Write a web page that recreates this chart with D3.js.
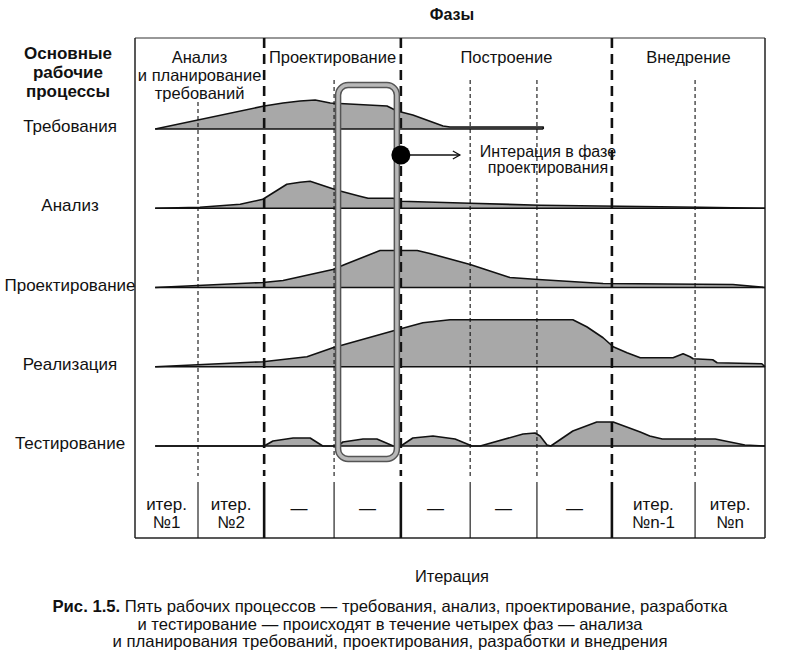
<!DOCTYPE html>
<html><head><meta charset="utf-8">
<script src="https://cdn.jsdelivr.net/npm/d3@7"></script>
<style>
body{margin:0;background:#fff;}
text{font-family:"Liberation Sans",Arial,sans-serif;fill:#111;}
</style></head>
<body><svg id="c" width="800" height="658"></svg>
<script>
// ---- data ----
const processes = ["Требования","Анализ","Проектирование","Реализация","Тестирование"];
// iteration boundaries, in % of project time
const iterBounds = [0, 10, 20.5, 31.6, 42.2, 53.2, 63.8, 75.7, 88.9, 100];
const phaseBreakIdx = [2, 4, 7];
const phaseNames = [["Анализ","и планирование","требований"],["Проектирование"],["Построение"],["Внедрение"]];
const phaseSpans = [[0,2],[2,4],[4,7],[7,9]];
const iterLabels = [["итер.","№1"],["итер.","№2"],["—"],["—"],["—"],["—"],["—"],["итер.","№n-1"],["итер.","№n"]];
const highlightedIter = 3;
// effort curves: [time %, effort level]
const reqCurve = [[3.2,0],[20.5,5.75],[23.5,6.5],[26.2,7],[28.6,7.25],[31,6.5],[40,5.75],[41.6,4.5],[44.1,3.5],[48.9,0.75],[50,0.5],[64.8,0.5],[64.8,0]];
const anaCurve = [[3.2,0],[10.3,0.25],[16.7,1],[20.3,2.25],[24.1,6],[26.2,6.5],[27.8,6.75],[32.1,4.5],[35.7,3],[37,2.5],[41,2.5],[42.2,1.75],[53.2,1.25],[64.3,0.75],[77,0.5],[89.7,0.25],[100,0]];
const desCurve = [[3.2,0],[20.3,1.25],[23.5,1.75],[31.4,4.5],[33.3,5.75],[38.9,9.25],[44.8,9.25],[46.8,8.5],[53.2,5.75],[59.5,2.5],[64,2],[74.3,1],[94.9,0.75],[100,0]];
const implCurve = [[3.2,0],[20.3,1.25],[27.3,2.5],[31.4,4.75],[41.6,9.25],[45.7,11],[50,11.75],[69.5,11.75],[71.7,10],[74.3,7.25],[75.9,5],[78.1,3.5],[80.2,2.25],[85.4,2.25],[87,3.25],[88.1,2.5],[88.6,2],[91.7,1.75],[92.4,1],[99.5,0.75],[100,0]];
const testCurve = [[3.2,0],[20.5,0],[21.9,1.25],[25.1,2],[27.8,2],[29.8,0],[32.2,0],[33,1],[36.2,1.75],[38.4,1.75],[41,0],[42.2,0],[44.1,2],[47.3,2.5],[50.8,1.75],[53.5,0],[54.8,0],[61.6,3],[63.5,3.25],[64.3,2.5],[65.4,0.25],[66,0],[69.5,3.75],[73.3,6],[75.9,6],[80.2,3.5],[81.7,2.5],[83.7,1.75],[92.1,1.75],[96.8,0.25],[100,0]];
const curves = [reqCurve, anaCurve, desCurve, implCurve, testCurve];
const leftHeader = ["Основные","рабочие","процессы"];
const annotation = ["Интерация в фазе","проектирования"];
const caption = ["Рис. 1.5.|Пять рабочих процессов — требования, анализ, проектирование, разработка",
                 "и тестирование — происходят в течение четырех фаз — анализа",
                 "и планирования требований, проектирования, разработки и внедрения"];

// ---- layout ----
const svg = d3.select("#c");
const frameTop = 38, frameBottom = 538, rowTop = 482;
const x = d3.scaleLinear().domain([0,100]).range([135,765]);
const lane = d3.scalePoint().domain(processes).range([129,446]);
const h = d3.scaleLinear().domain([0,12]).range([0,48]);

// left header
svg.append("text").attr("y",59).attr("text-anchor","middle")
  .style("font-weight","bold").style("font-size","17px")
  .selectAll("tspan").data(leftHeader).join("tspan")
  .attr("x",68).attr("dy",(d,i)=>i?19:0).text(d=>d);
svg.append("text").attr("x",452).attr("y",20).attr("text-anchor","middle")
  .style("font-weight","bold").style("font-size","16px").text("Фазы");

// areas
curves.forEach((c,i)=>{
  const base = lane(processes[i]);
  const area = d3.area().x(d=>x(d[0])).y0(base).y1(d=>base-h(d[1]));
  svg.append("path").attr("d",area(c)).attr("fill","#a8a8a8");
});

// frame
svg.append("line").attr("x1",x(0)).attr("x2",x(100)).attr("y1",frameTop).attr("y2",frameTop).attr("stroke","#333").attr("stroke-width",1.2);
svg.append("line").attr("x1",x(0)).attr("x2",x(100)).attr("y1",frameBottom).attr("y2",frameBottom).attr("stroke","#222").attr("stroke-width",1.5);
[0,100].forEach(t=>svg.append("line").attr("x1",x(t)).attr("x2",x(t)).attr("y1",frameTop).attr("y2",frameBottom).attr("stroke","#222").attr("stroke-width",1.5));

// dividers
iterBounds.slice(1,-1).forEach((t,k)=>{
  const idx = k+1;
  const isPhase = phaseBreakIdx.includes(idx);
  svg.append("line").attr("x1",x(t)).attr("x2",x(t))
    .attr("y1", isPhase ? frameTop : (idx===1 ? 102 : 80)).attr("y2", 476)
    .attr("stroke","#111").attr("stroke-width", isPhase?2.6:1.1)
    .attr("stroke-dasharray", isPhase ? "10,6" : "4,3");
  svg.append("line").attr("x1",x(t)).attr("x2",x(t)).attr("y1",rowTop).attr("y2",frameBottom)
    .attr("stroke","#111").attr("stroke-width", isPhase?2.6:1.1);
});

// curve outlines and baselines
curves.forEach((c,i)=>{
  const base = lane(processes[i]);
  const line = d3.line().x(d=>x(d[0])).y(d=>base-h(d[1]));
  svg.append("path").attr("d",line(c)).attr("fill","none").attr("stroke","#111").attr("stroke-width",1.6).attr("stroke-linejoin","round");
  svg.append("line").attr("x1",x(c[0][0])).attr("x2",x(c[c.length-1][0])).attr("y1",base).attr("y2",base)
    .attr("stroke","#111").attr("stroke-width",1.6);
});

// process labels
svg.selectAll(".plab").data(processes).join("text").attr("class","plab")
  .attr("x",70).attr("y",d=>lane(d)+3).attr("text-anchor","middle").style("font-size","17px").text(d=>d);

// phase labels
phaseNames.forEach((lines,i)=>{
  const cx = (x(iterBounds[phaseSpans[i][0]])+x(iterBounds[phaseSpans[i][1]]))/2;
  const t = svg.append("text").attr("text-anchor","middle").attr("y",63).style("font-size","16.5px");
  t.selectAll("tspan").data(lines).join("tspan").attr("x",cx).attr("dy",(d,j)=>j?18:0).text(d=>d);
});

// iteration labels
iterLabels.forEach((lines,i)=>{
  const cx = (x(iterBounds[i])+x(iterBounds[i+1]))/2;
  const t = svg.append("text").attr("text-anchor","middle").style("font-size","17px")
    .attr("y", lines.length>1 ? 510 : 514);
  t.selectAll("tspan").data(lines).join("tspan").attr("x",cx).attr("dy",(d,j)=>j?18:0).text(d=>d);
});

// highlighted iteration box
const bx0 = x(iterBounds[highlightedIter])+4, bx1 = x(iterBounds[highlightedIter+1])-4;
const by0 = 85, by1 = 459;
svg.append("rect").attr("x",bx0).attr("y",by0).attr("width",bx1-bx0).attr("height",by1-by0)
  .attr("rx",10).attr("fill","none").attr("stroke","#555").attr("stroke-width",6.5);
svg.append("rect").attr("x",bx0).attr("y",by0).attr("width",bx1-bx0).attr("height",by1-by0)
  .attr("rx",10).attr("fill","none").attr("stroke","#b8b8b8").attr("stroke-width",3.5);

// annotation
const ax = x(iterBounds[highlightedIter+1]), ay = lane(processes[0]) + 26;
svg.append("circle").attr("cx",ax).attr("cy",ay).attr("r",9.5).attr("fill","#000");
svg.append("line").attr("x1",ax+9).attr("x2",ax+59).attr("y1",ay).attr("y2",ay).attr("stroke","#111").attr("stroke-width",1.3);
svg.append("path").attr("d",`M${ax+52},${ay-4}L${ax+59},${ay}L${ax+52},${ay+4}`).attr("fill","none").attr("stroke","#111").attr("stroke-width",1.3);
svg.append("text").attr("text-anchor","middle").attr("y",ay+2).style("font-size","16px")
  .selectAll("tspan").data(annotation).join("tspan").attr("x",548).attr("dy",(d,j)=>j?16:0).text(d=>d);

// axis title and caption
svg.append("text").attr("x",452).attr("y",582).attr("text-anchor","middle").style("font-size","16px")
  .attr("textLength",74).attr("lengthAdjust","spacingAndGlyphs").text("Итерация");
const capW = [675, 505, 555];
caption.forEach((c,i)=>{
  const t = svg.append("text").attr("x",390).attr("y",612+i*17.5).attr("text-anchor","middle")
    .style("font-size","16.5px").attr("textLength",capW[i]).attr("lengthAdjust","spacingAndGlyphs");
  const parts = c.split("|");
  if(parts.length>1){
    t.append("tspan").style("font-weight","bold").text(parts[0]+" ");
    t.append("tspan").text(parts[1]);
  } else t.text(c);
});
</script></body></html>
